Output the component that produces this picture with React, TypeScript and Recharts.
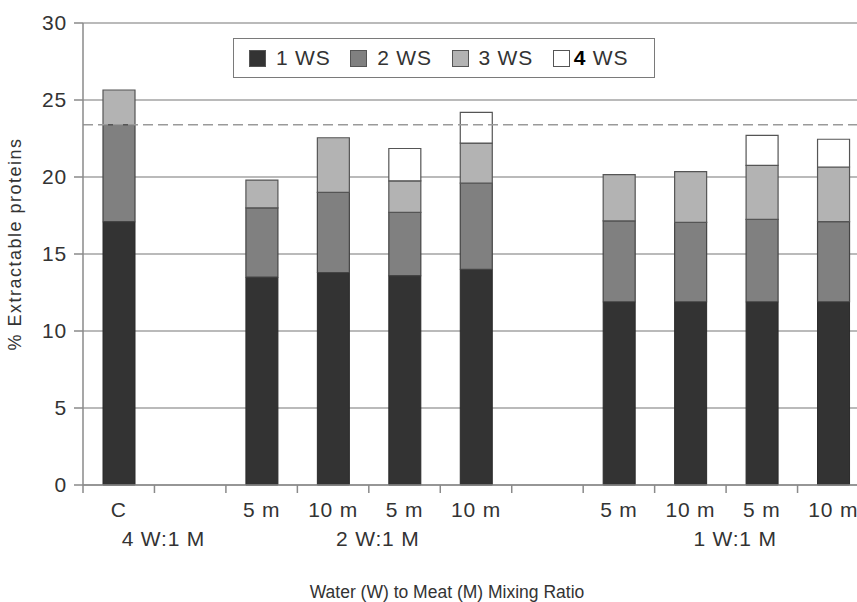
import { BarChart, Bar, XAxis, YAxis, CartesianGrid, ReferenceLine, Legend } from 'recharts';

const categories = ['C', '', '5 m', '10 m', '5 m', '10 m', '', '5 m', '10 m', '5 m', '10 m'];
const groupLabels = ['4 W:1 M', '2 W:1 M', '1 W:1 M'];
const groupAnchors = [0, 3, 8]; // label sits just right of this category's right edge

const ws1 = [17.1, null, 13.5, 13.8, 13.6, 14.0, null, 11.9, 11.9, 11.9, 11.9];
const ws2 = [6.3, null, 4.5, 5.2, 4.1, 5.6, null, 5.25, 5.15, 5.35, 5.2];
const ws3 = [2.25, null, 1.8, 3.55, 2.05, 2.6, null, 3.0, 3.3, 3.5, 3.55];
const ws4 = [null, null, null, null, 2.1, 2.0, null, null, null, 1.95, 1.8];

const yTicks = [0, 5, 10, 15, 20, 25, 30];
const referenceLevel = 23.4;

const seriesNames = ['1 WS', '2 WS', '3 WS', '4 WS'];
const seriesColors = ['#333333', '#808080', '#b3b3b3', '#ffffff'];

const data = categories.map((c, i) => ({
  id: i,
  label: c,
  ws1: ws1[i],
  ws2: ws2[i],
  ws3: ws3[i],
  ws4: ws4[i],
}));

const CHART_W = 880;
const CHART_H = 602;
const MARGIN = { top: 23, right: 11, bottom: 0, left: 0 };
const Y_AXIS_W = 83;
const BAND = (CHART_W - MARGIN.left - MARGIN.right - Y_AXIS_W) / categories.length;

const FONT = '"Liberation Sans", Arial, sans-serif';
const TEXT = '#333333';
const AXIS = '#8a8a8a';
const TICK_FS = 21;
const TICK_LS = 0.8;

function CategoryTick(props: any) {
  const { x, y, payload } = props;
  const i = payload.value as number;
  const g = groupAnchors.indexOf(i);
  return (
    <g>
      {i === 0 && <line x1={x - BAND / 2} x2={x - BAND / 2} y1={y} y2={y + 8} stroke={AXIS} strokeWidth={1.5} />}
      {i < categories.length - 1 && (
        <line x1={x + BAND / 2} x2={x + BAND / 2} y1={y} y2={y + 8} stroke={AXIS} strokeWidth={1.5} />
      )}
      <text x={x} y={y + 32} textAnchor="middle" fill={TEXT} fontSize={TICK_FS} letterSpacing={TICK_LS} fontFamily={FONT}>
        {categories[i]}
      </text>
      {g >= 0 && (
        <text x={x + BAND / 2 + 9} y={y + 61} textAnchor="middle" fill={TEXT} fontSize={TICK_FS} letterSpacing={TICK_LS} fontFamily={FONT}>
          {groupLabels[g]}
        </text>
      )}
    </g>
  );
}

function LegendBox() {
  return (
    <div
      style={{
        display: 'flex',
        alignItems: 'center',
        border: '1.5px solid #7a7a7a',
        height: 40,
        boxSizing: 'border-box',
        padding: '0 0 0 15px',
        fontFamily: FONT,
        fontSize: TICK_FS,
        letterSpacing: TICK_LS,
        color: TEXT,
        background: '#fff',
      }}
    >
      {seriesNames.map((n, i) => (
        <div key={n} style={{ display: 'flex', alignItems: 'center', width: 102 }}>
          <span
            style={{
              display: 'inline-block',
              width: 17,
              height: 17,
              background: seriesColors[i],
              border: '1.5px solid #555',
              boxSizing: 'border-box',
              marginRight: i === 3 ? 4 : 10,
            }}
          />
          {i === 3 ? (
            <span>
              <b style={{ color: '#000' }}>4</b> WS
            </span>
          ) : (
            <span>{n}</span>
          )}
        </div>
      ))}
    </div>
  );
}

export default function App() {
  return (
    <div style={{ position: 'absolute', left: 0, top: 0, width: 857, height: 602, overflow: 'hidden', background: '#fff' }}>
      <BarChart width={CHART_W} height={CHART_H} data={data} margin={MARGIN} barSize={32}>
        <CartesianGrid horizontal vertical={false} stroke="#a3a3a3" strokeWidth={1.5} />
        <XAxis
          dataKey="id"
          type="category"
          interval={0}
          height={CHART_H - 485}
          axisLine={{ stroke: AXIS, strokeWidth: 1.5 }}
          tickLine={false}
          tickSize={0}
          tickMargin={0}
          tick={<CategoryTick />}
          label={{
            content: (p: any) => {
              const vb = p.viewBox;
              return (
                <text
                  x={vb.x + vb.width / 2 - 29}
                  y={vb.y + vb.height - 4}
                  textAnchor="middle"
                  fill={TEXT}
                  fontSize={17.5}
                  fontFamily={FONT}
                >
                  Water (W) to Meat (M) Mixing Ratio
                </text>
              );
            },
          }}
        />
        <YAxis
          width={Y_AXIS_W}
          domain={[0, 30]}
          ticks={yTicks}
          interval={0}
          axisLine={{ stroke: AXIS, strokeWidth: 1.5 }}
          tickLine={{ stroke: AXIS, strokeWidth: 1.5 }}
          tickSize={9}
          tickMargin={7}
          tick={{ fill: TEXT, fontSize: TICK_FS, letterSpacing: TICK_LS, fontFamily: FONT }}
          label={{
            content: (p: any) => {
              const vb = p.viewBox;
              const cx = vb.x + 15;
              const cy = vb.y + vb.height / 2 - 10;
              return (
                <text
                  x={cx}
                  y={cy}
                  transform={`rotate(-90 ${cx} ${cy})`}
                  textAnchor="middle"
                  dominantBaseline="central"
                  fill={TEXT}
                  fontSize={18}
                  letterSpacing={1.5}
                  fontFamily={FONT}
                >
                  % Extractable proteins
                </text>
              );
            },
          }}
        />
        <ReferenceLine y={referenceLevel} stroke="#9a9a9a" strokeWidth={1.5} strokeDasharray="10 5" />
        <Legend
          verticalAlign="middle"
          align="center"
          layout="horizontal"
          wrapperStyle={{ top: 38, left: 233, width: 422 }}
          content={() => <LegendBox />}
        />
        <Bar dataKey="ws1" name={seriesNames[0]} stackId="a" fill={seriesColors[0]} stroke="#2a2a2a" strokeWidth={1} isAnimationActive={false} />
        <Bar dataKey="ws2" name={seriesNames[1]} stackId="a" fill={seriesColors[1]} stroke="#444" strokeWidth={1.2} isAnimationActive={false} />
        <Bar dataKey="ws3" name={seriesNames[2]} stackId="a" fill={seriesColors[2]} stroke="#555" strokeWidth={1.2} isAnimationActive={false} />
        <Bar dataKey="ws4" name={seriesNames[3]} stackId="a" fill={seriesColors[3]} stroke="#555" strokeWidth={1.2} isAnimationActive={false} />
      </BarChart>
    </div>
  );
}
